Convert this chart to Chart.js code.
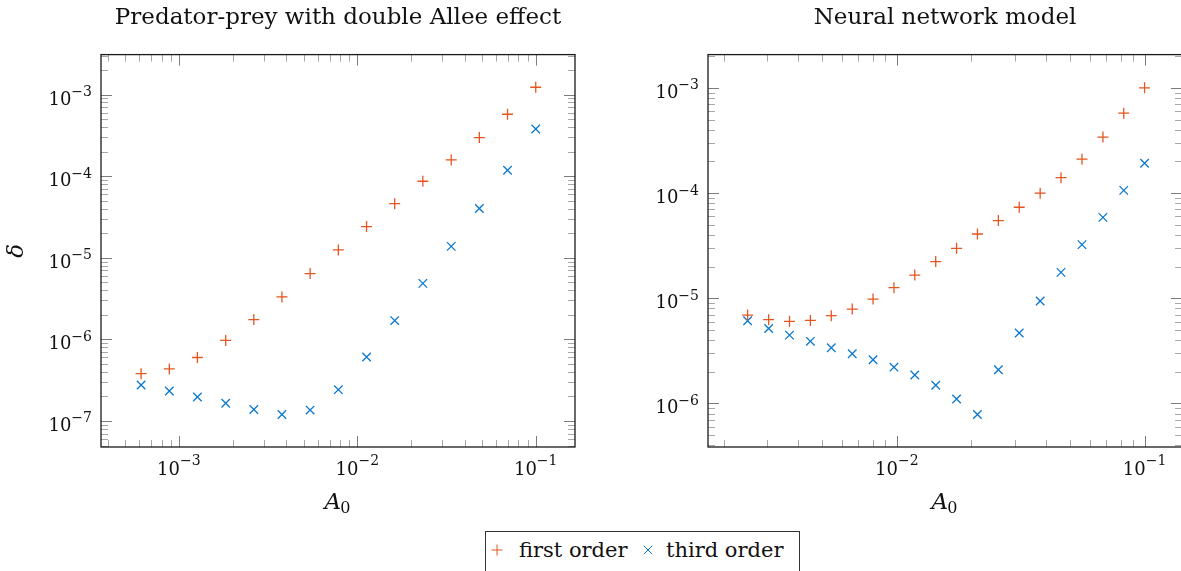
<!DOCTYPE html>
<html>
<head>
<meta charset="utf-8">
<script src="https://cdn.jsdelivr.net/npm/chart.js@4/dist/chart.umd.min.js"></script>
<style>
    html, body { margin: 0; padding: 0; background: #fff; width: 1181px; height: 571px; overflow: hidden; }
    canvas.plot { position: absolute; top: 0; }
    #left { left: 0; }
    #right { left: 600px; }
    #legend {
        position: absolute; left: 485px; top: 531px; width: 313px; height: 50px;
        border: 1px solid #333; font: 21px "DejaVu Serif", serif; color: #111;
    }
    #legend span, #legend canvas { position: absolute; }
    #legend span { top: 0; line-height: 36px; white-space: nowrap; }
</style>
</head>
<body>
<canvas id="left" class="plot" width="590" height="520"></canvas>
<canvas id="right" class="plot" width="600" height="520"></canvas>
<div id="legend">
    <canvas id="mk1" width="16" height="16" style="left:3px; top:10px"></canvas>
    <span style="left:33px">first order</span>
    <canvas id="mk2" width="16" height="16" style="left:154px; top:10px"></canvas>
    <span style="left:180px">third order</span>
</div>
<script>
// Predator-prey with double Allee effect
const predA0 = [0.000614, 0.000884, 0.00127, 0.00183, 0.00263, 0.00378, 0.00544, 0.00783,
    0.01127, 0.0162, 0.0233, 0.0336, 0.0483, 0.0695, 0.1];
const predFirst = [3.8e-7, 4.34e-7, 6.0e-7, 9.7e-7, 1.75e-6, 3.31e-6, 6.4e-6, 1.25e-5,
    2.41e-5, 4.61e-5, 8.67e-5, 1.58e-4, 2.97e-4, 5.74e-4, 1.23e-3];
const predThird = [2.76e-7, 2.33e-7, 1.97e-7, 1.65e-7, 1.38e-7, 1.20e-7, 1.36e-7, 2.42e-7,
    6.08e-7, 1.70e-6, 4.86e-6, 1.38e-5, 4.01e-5, 1.18e-4, 3.79e-4];

// Neural network model
const nnA0 = [0.0025, 0.00304, 0.00369, 0.00448, 0.00544, 0.00661, 0.00802, 0.00974, 0.01182, 0.01436,
    0.01743, 0.02116, 0.0257, 0.0312, 0.0379, 0.046, 0.0559, 0.0679, 0.0824, 0.1];
const nnFirst = [6.92e-6, 6.25e-6, 6.03e-6, 6.15e-6, 6.82e-6, 7.89e-6, 9.82e-6, 1.26e-5, 1.66e-5, 2.23e-5,
    2.98e-5, 4.08e-5, 5.47e-5, 7.32e-5, 9.96e-5, 1.40e-4, 2.10e-4, 3.40e-4, 5.74e-4, 1.0e-3];
const nnThird = [6.11e-6, 5.16e-6, 4.46e-6, 3.89e-6, 3.38e-6, 2.96e-6, 2.60e-6, 2.21e-6, 1.86e-6, 1.49e-6,
    1.10e-6, 7.85e-7, 2.09e-6, 4.67e-6, 9.40e-6, 1.76e-5, 3.23e-5, 5.87e-5, 1.06e-4, 1.92e-4];

// tick values and their exponent labels (drawn as 10^label)
const predXTicks = [1e-3, 1e-2, 1e-1];
const predXLabels = ['−3', '−2', '−1'];
const predYTicks = [1e-7, 1e-6, 1e-5, 1e-4, 1e-3];
const predYLabels = ['−7', '−6', '−5', '−4', '−3'];
const nnXTicks = [1e-2, 1e-1];
const nnXLabels = ['−2', '−1'];
const nnYTicks = [1e-6, 1e-5, 1e-4, 1e-3];
const nnYLabels = ['−6', '−5', '−4', '−3'];

const RED = '#e4561f';
const BLUE = '#0a78d0';
const SERIF = '"DejaVu Serif", serif';
const TXT = '#111';

// inward log ticks on all four sides, the black frame, 10^n labels and the A0 label
const frame = {
    id: 'frame',
    beforeDatasetsDraw(chart) {
        const { ctx, chartArea: a, scales } = chart;
        ctx.save();
        ctx.lineWidth = 1;
        const marks = (scale, horiz) => {
            const lo = Math.floor(Math.log10(scale.min));
            const hi = Math.ceil(Math.log10(scale.max));
            for (let e = lo; e <= hi; e++) {
                for (let m = 1; m < 10; m++) {
                    const v = m * Math.pow(10, e);
                    if (v < scale.min || v > scale.max) continue;
                    const p = Math.round(scale.getPixelForValue(v)) + 0.5;
                    const len = m === 1 ? 11 : 7;
                    ctx.strokeStyle = m === 1 ? '#7c7c7c' : '#a8a8a8';
                    ctx.beginPath();
                    if (horiz) {
                        ctx.moveTo(p, a.bottom); ctx.lineTo(p, a.bottom - len);
                        ctx.moveTo(p, a.top); ctx.lineTo(p, a.top + len);
                    } else {
                        ctx.moveTo(a.left, p); ctx.lineTo(a.left + len, p);
                        ctx.moveTo(a.right, p); ctx.lineTo(a.right - len, p);
                    }
                    ctx.stroke();
                }
            }
        };
        marks(scales.x, true);
        marks(scales.y, false);
        ctx.restore();
    },
    afterDraw(chart, args, opts) {
        const { ctx, chartArea: a, scales } = chart;
        ctx.save();
        ctx.strokeStyle = '#1a1a1a';
        ctx.lineWidth = 1.3;
        ctx.strokeRect(a.left, a.top, a.width, a.height);

        ctx.fillStyle = TXT;
        ctx.textBaseline = 'alphabetic';
        ctx.textAlign = 'left';
        const base = '18px ' + SERIF, sup = '14px ' + SERIF;
        const power = (exp) => {
            ctx.font = base;
            const wb = ctx.measureText('10').width;
            ctx.font = sup;
            const ws = ctx.measureText(exp).width;
            return { wb, w: wb + ws };
        };
        const put = (exp, x, y, raise) => {
            const { wb } = power(exp);
            ctx.font = base;
            ctx.fillText('10', x, y);
            ctx.font = sup;
            ctx.fillText(exp, x + wb, y - raise);
        };
        scales.x.ticks.forEach((t, i) => {
            const exp = opts.xLabels[i];
            const px = scales.x.getPixelForValue(t.value);
            put(exp, px - power(exp).w / 2, a.bottom + 28, 10);
        });
        scales.y.ticks.forEach((t, i) => {
            const exp = opts.yLabels[i];
            const py = scales.y.getPixelForValue(t.value);
            put(exp, a.left - 9 - power(exp).w, py + 10, 8.5);
        });

        // A_0 : italic A with an upright subscript
        const cx = (a.left + a.right) / 2;
        ctx.font = 'italic 23px ' + SERIF;
        const wa = ctx.measureText('A').width;
        ctx.font = '16px ' + SERIF;
        const w0 = ctx.measureText('0').width;
        const x0 = cx - (wa + w0) / 2;
        ctx.font = 'italic 23px ' + SERIF;
        ctx.fillText('A', x0, a.bottom + 62);
        ctx.font = '16px ' + SERIF;
        ctx.fillText('0', x0 + wa - 1, a.bottom + 66);
        ctx.restore();
    }
};

const makeChart = (id, cfg) => {
    const pts = (ys) => cfg.xs.map((x, i) => ({ x, y: ys[i] }));
    return new Chart(document.getElementById(id), {
        type: 'scatter',
        data: {
            datasets: [
                {
                    label: 'first order', data: pts(cfg.first),
                    pointStyle: 'cross', pointRadius: 5.5, borderWidth: 1.3,
                    borderColor: RED, backgroundColor: RED
                },
                {
                    label: 'third order', data: pts(cfg.third),
                    pointStyle: 'crossRot', pointRadius: 6, borderWidth: 1.3,
                    borderColor: BLUE, backgroundColor: BLUE
                }
            ]
        },
        options: {
            responsive: false,
            animation: false,
            events: [],
            layout: { padding: { left: 0, right: cfg.padRight, top: 0, bottom: 0 } },
            plugins: {
                legend: { display: false },
                tooltip: { enabled: false },
                title: {
                    display: true, text: cfg.title, fullSize: false, color: TXT,
                    font: { family: SERIF, size: 23, weight: 'normal' },
                    padding: { top: 4, bottom: 23 }
                },
                frame: { xLabels: cfg.xLabels, yLabels: cfg.yLabels }
            },
            scales: {
                x: {
                    type: 'logarithmic', min: cfg.xMin, max: cfg.xMax,
                    grid: { display: false, drawTicks: false },
                    border: { display: false },
                    afterBuildTicks: (s) => { s.ticks = cfg.xTicks.map(v => ({ value: v })); },
                    afterFit: (s) => { s.height = 73; },
                    ticks: { display: false }
                },
                y: {
                    type: 'logarithmic', min: cfg.yMin, max: cfg.yMax,
                    grid: { display: false, drawTicks: false },
                    border: { display: false },
                    afterBuildTicks: (s) => { s.ticks = cfg.yTicks.map(v => ({ value: v })); },
                    afterFit: (s) => { s.width = cfg.yWidth; },
                    ticks: { display: false },
                    title: {
                        display: cfg.yTitle, text: 'δ', color: TXT,
                        font: { family: SERIF, size: 23, style: 'italic' },
                        padding: { top: 3, bottom: 0 }
                    }
                }
            }
        },
        plugins: [frame]
    });
};

makeChart('left', {
    title: 'Predator-prey with double Allee effect',
    xs: predA0, first: predFirst, third: predThird,
    xMin: 3.66e-4, xMax: 0.166, yMin: 4.8e-8, yMax: 3.09e-3,
    xTicks: predXTicks, xLabels: predXLabels, yTicks: predYTicks, yLabels: predYLabels,
    yWidth: 101, padRight: 15, yTitle: true
});

makeChart('right', {
    title: 'Neural network model',
    xs: nnA0, first: nnFirst, third: nnThird,
    xMin: 1.73e-3, xMax: 0.1416, yMin: 3.85e-7, yMax: 2.07e-3,
    xTicks: nnXTicks, xLabels: nnXLabels, yTicks: nnYTicks, yLabels: nnYLabels,
    yWidth: 108, padRight: 18, yTitle: false
});

// legend markers, drawn with the same point renderer as the plots
const legendMark = (id, style, radius, color) => {
    const ctx = document.getElementById(id).getContext('2d');
    ctx.strokeStyle = color;
    ctx.fillStyle = color;
    Chart.helpers.drawPoint(ctx, { pointStyle: style, radius, borderWidth: 1.3 }, 8, 8);
};
legendMark('mk1', 'cross', 5.5, RED);
legendMark('mk2', 'crossRot', 6, BLUE);
</script>
</body>
</html>
